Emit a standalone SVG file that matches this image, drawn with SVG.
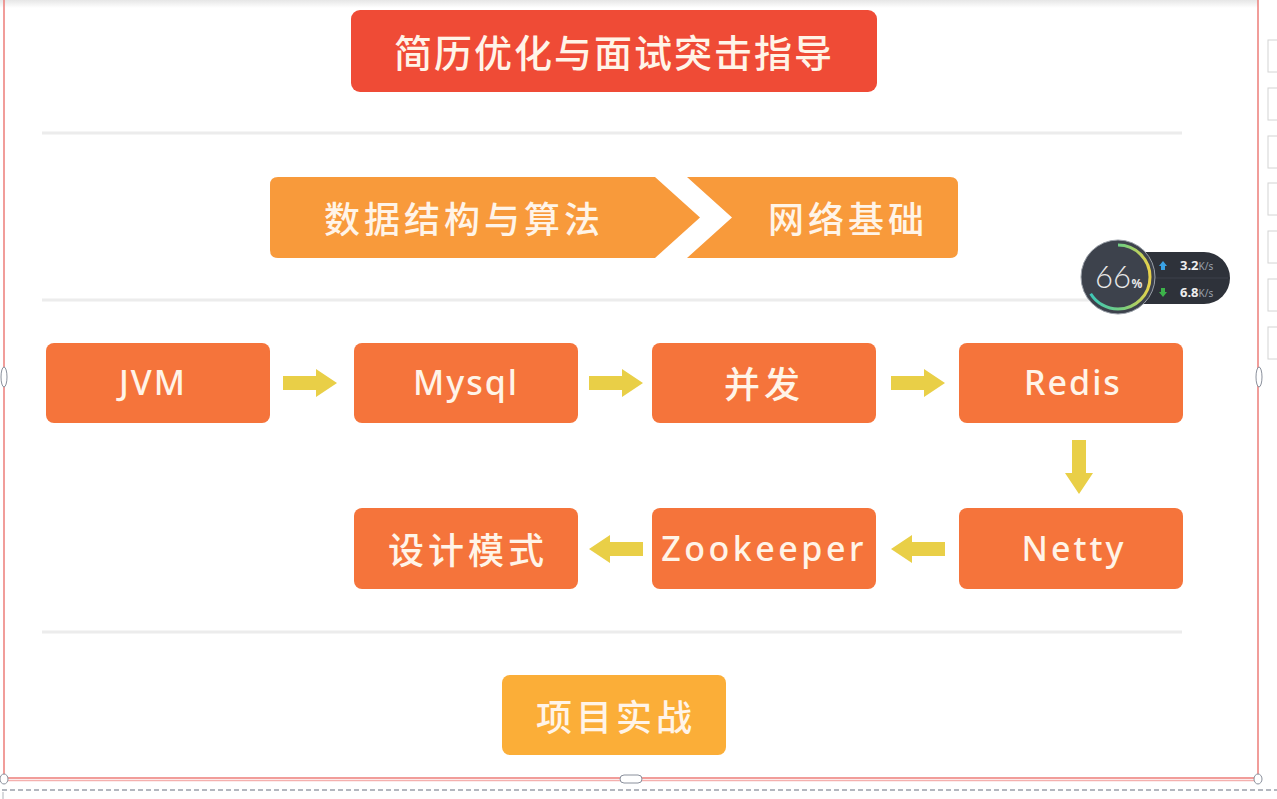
<svg xmlns="http://www.w3.org/2000/svg" width="1277" height="799" viewBox="0 0 1277 799">
<defs>
<linearGradient id="topfade" x1="0" y1="0" x2="0" y2="1"><stop offset="0" stop-color="#e6e6e6"/><stop offset="1" stop-color="#ffffff"/></linearGradient>
<linearGradient id="arcg" x1="0" y1="0" x2="0" y2="1"><stop offset="0" stop-color="#35c6c0"/><stop offset="0.6" stop-color="#7ccf7a"/><stop offset="1" stop-color="#e9d24a"/></linearGradient>
<path id="arrR" d="M-27,-7 H6 V-14 L27,0 L6,14 V7 H-27 Z"/>
</defs>
<style>
.box{fill:#F5743B}
.title{fill:#EF4B36}
.chev{fill:#F89A3B}
.proj{fill:#FBAE38}
.sep{stroke:#ececec;stroke-width:3}
.arr{fill:#E9CF47}
.cn{font-family:"Noto Sans CJK SC","Noto Sans",sans-serif;font-weight:500;fill:#FFF4E8;text-anchor:middle;dominant-baseline:central}
.en{font-family:"Noto Sans","Noto Sans CJK SC",sans-serif;font-weight:500;fill:#FFF4E8;text-anchor:middle;dominant-baseline:central;font-size:34px}
.frame{stroke:#EC7C78;stroke-width:1.5;fill:none}
.handle{fill:#ffffff;stroke:#8a909c;stroke-width:1}
.side{fill:#ffffff;stroke:#d4d4d4;stroke-width:1}
</style>
<rect width="1277" height="799" fill="#ffffff"/>
<rect x="0" y="0" width="1258" height="8" fill="url(#topfade)"/>

<g id="separators">
<line class="sep" x1="42" y1="133" x2="1182" y2="133"/>
<line class="sep" x1="42" y1="300" x2="1182" y2="300"/>
<line class="sep" x1="42" y1="632" x2="1182" y2="632"/>
</g>

<g id="node-title">
<rect class="title" x="351" y="10" width="526" height="82" rx="9"/>
<text class="cn" x="614" y="50" font-size="38" letter-spacing="2">简历优化与面试突击指导</text>
</g>

<g id="node-algo">
<path class="chev" d="M278,177 H655 L700,217.5 L655,258 H278 Q270,258 270,250 V185 Q270,177 278,177 Z"/>
<text class="cn" x="464" y="217" font-size="36" letter-spacing="4">数据结构与算法</text>
</g>
<g id="node-net">
<path class="chev" d="M687,177 H950 Q958,177 958,185 V250 Q958,258 950,258 H687 L732,217.5 Z"/>
<text class="cn" x="848" y="217" font-size="36" letter-spacing="4">网络基础</text>
</g>

<g id="node-jvm"><rect class="box" x="46" y="343" width="224" height="80" rx="8"/><text class="en" x="153" y="382" letter-spacing="2">JVM</text></g>
<g id="node-mysql"><rect class="box" x="354" y="343" width="224" height="80" rx="8"/><text class="en" x="466" y="382" letter-spacing="2">Mysql</text></g>
<g id="node-concurrency"><rect class="box" x="652" y="343" width="224" height="80" rx="8"/><text class="cn" x="764" y="382" font-size="36" letter-spacing="4">并发</text></g>
<g id="node-redis"><rect class="box" x="959" y="343" width="224" height="80" rx="8"/><text class="en" x="1073" y="382" letter-spacing="2">Redis</text></g>
<g id="node-netty"><rect class="box" x="959" y="508" width="224" height="81" rx="8"/><text class="en" x="1074" y="548" letter-spacing="3">Netty</text></g>
<g id="node-zookeeper"><rect class="box" x="652" y="508" width="224" height="81" rx="8"/><text class="en" x="764" y="548" letter-spacing="3.5">Zookeeper</text></g>
<g id="node-design"><rect class="box" x="354" y="508" width="224" height="81" rx="8"/><text class="cn" x="468" y="548" font-size="36" letter-spacing="4">设计模式</text></g>
<g id="node-project"><rect class="proj" x="502" y="675" width="224" height="80" rx="8"/><text class="cn" x="616" y="715" font-size="36" letter-spacing="4">项目实战</text></g>

<g id="connectors">
<use href="#arrR" class="arr" transform="translate(310,383)"/>
<use href="#arrR" class="arr" transform="translate(616,383)"/>
<use href="#arrR" class="arr" transform="translate(918,383)"/>
<use href="#arrR" class="arr" transform="translate(1079,467) rotate(90)"/>
<use href="#arrR" class="arr" transform="translate(918,549) rotate(180)"/>
<use href="#arrR" class="arr" transform="translate(616,549) rotate(180)"/>
</g>

<g id="widget">
<rect x="1112" y="252" width="118" height="52" rx="26" fill="#2e323a"/>
<line x1="1150" y1="278" x2="1228" y2="278" stroke="#3c414a" stroke-width="1"/>
<circle cx="1118" cy="277" r="37" fill="#3d424c" stroke="#9aa0a8" stroke-width="1"/>
<circle cx="1118" cy="277" r="32" fill="none" stroke="url(#arcg)" stroke-width="3" stroke-dasharray="133 200" transform="rotate(-90 1118 277)"/>
<text x="1113" y="288" font-family="Lato,'Noto Sans',sans-serif" font-size="31" font-weight="300" fill="#e8e8e8" text-anchor="middle">66</text>
<text x="1137" y="288" font-family="'Noto Sans',sans-serif" font-size="12" font-weight="bold" fill="#e8e8e8" text-anchor="middle">%</text>
<path d="M1163,261 L1167,266 H1165 V270 H1161 V266 H1159 Z" fill="#3aa3e6"/>
<text x="1180" y="270" font-family="'Noto Sans',sans-serif" font-size="13" font-weight="bold" fill="#eeeeee">3.2<tspan font-size="10" font-weight="normal" fill="#9aa0aa">K/s</tspan></text>
<path d="M1163,297 L1167,292 H1165 V288 H1161 V292 H1159 Z" fill="#3cb34a"/>
<text x="1180" y="297" font-family="'Noto Sans',sans-serif" font-size="13" font-weight="bold" fill="#eeeeee">6.8<tspan font-size="10" font-weight="normal" fill="#9aa0aa">K/s</tspan></text>
</g>

<g id="frame">
<line class="frame" x1="4" y1="0" x2="4" y2="779"/>
<line class="frame" x1="1258" y1="0" x2="1258" y2="779"/>
<line class="frame" x1="4" y1="778" x2="1258" y2="778"/>
<line class="frame" x1="4" y1="780.5" x2="1258" y2="780.5" stroke-width="1" opacity="0.6"/>
<ellipse class="handle" cx="4" cy="377" rx="3" ry="10"/>
<ellipse class="handle" cx="1259" cy="377" rx="3" ry="10"/>
<rect class="handle" x="620" y="775" width="22" height="8" rx="4"/>
<ellipse class="handle" cx="4" cy="779" rx="4" ry="5"/>
<ellipse class="handle" cx="1258" cy="779" rx="4" ry="5"/>
<line x1="2" y1="790" x2="1277" y2="790" stroke="#9aa0aa" stroke-width="1.5" stroke-dasharray="5 3"/>
<line x1="3" y1="792" x2="3" y2="799" stroke="#b0b4bb" stroke-width="1"/>
</g>

<g id="sidebar">
<rect class="side" x="1268" y="40" width="12" height="32"/>
<rect class="side" x="1268" y="88" width="12" height="32"/>
<rect class="side" x="1268" y="136" width="12" height="32"/>
<rect class="side" x="1268" y="183" width="12" height="32"/>
<rect class="side" x="1268" y="231" width="12" height="32"/>
<rect class="side" x="1268" y="279" width="12" height="32"/>
<rect class="side" x="1268" y="327" width="12" height="32"/>
</g>
</svg>
